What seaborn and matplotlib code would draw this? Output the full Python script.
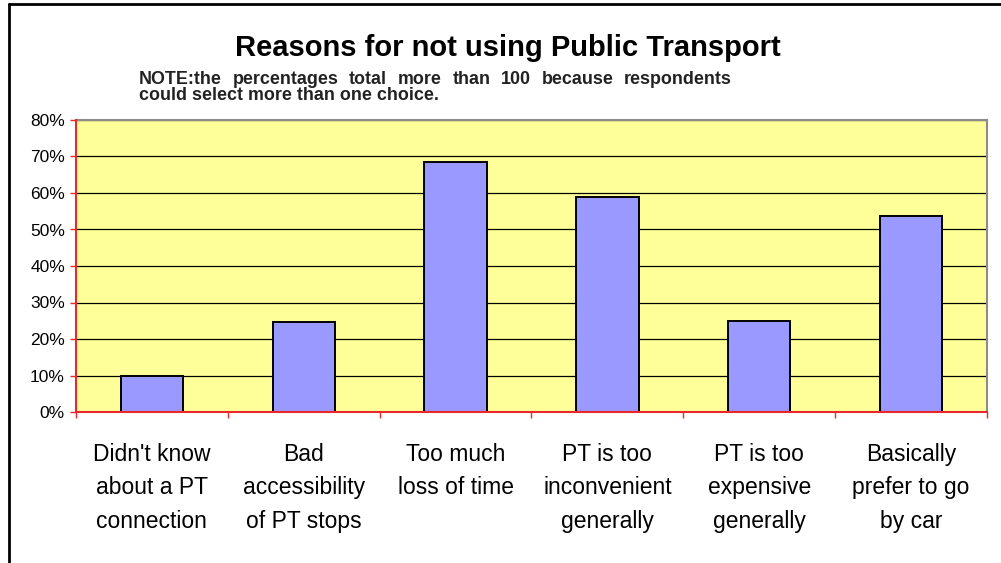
import numpy as np
import pandas as pd
import seaborn as sns
import matplotlib.pyplot as plt
from matplotlib.lines import Line2D
from matplotlib.ticker import PercentFormatter, FixedLocator

# chart data
reasons = [
    "Didn't know\nabout a PT\nconnection",
    "Bad\naccessibility\nof PT stops",
    "Too much\nloss of time",
    "PT is too\ninconvenient\ngenerally",
    "PT is too\nexpensive\ngenerally",
    "Basically\nprefer to go\nby car",
]
percent = [9.9, 24.7, 68.4, 59.0, 25.0, 53.7]
y_ticks = [0, 10, 20, 30, 40, 50, 60, 70, 80]

title = "Reasons for not using Public Transport"
note_line1 = "NOTE:the percentages total more than 100 because respondents"
note_line2 = "could select more than one choice."

sns.set_style("white")
plt.rcParams["font.family"] = ["Liberation Sans", "DejaVu Sans"]
plt.rcParams["text.color"] = "black"

df = pd.DataFrame({"reason": reasons, "percent": percent})

W, H = 1001, 563
fig = plt.figure(figsize=(W / 100, H / 100), dpi=100)
fig.patch.set_facecolor("white")
ax = fig.add_axes([76 / W, 1 - 412 / H, (987 - 76) / W, (412 - 120) / H])
ax.set_facecolor("#FFFF99")

sns.barplot(data=df, x="reason", y="percent", color="#9999FF", saturation=1,
            edgecolor="black", linewidth=1.4, width=0.41, ax=ax, zorder=3)

ax.set_ylim(0, 80)
ax.set_xlim(-0.5, len(reasons) - 0.5)
ax.set_yticks(y_ticks)
ax.yaxis.set_major_formatter(PercentFormatter(xmax=100, decimals=0))
ax.grid(axis="y", color="black", linewidth=0.9, zorder=1)
ax.grid(axis="x", visible=False)
ax.set_axisbelow(True)
ax.set_xlabel("")
ax.set_ylabel("")

# spines
for side in ["left", "bottom"]:
    ax.spines[side].set_color("#E8282B")
    ax.spines[side].set_linewidth(1.5)
    ax.spines[side].set_zorder(4)
for side in ["top", "right"]:
    ax.spines[side].set_color("#8C8C8C")
    ax.spines[side].set_linewidth(1.5)

# ticks
ax.tick_params(axis="y", which="major", direction="out", length=4.5, width=1,
               color="#E8282B", labelcolor="black", labelsize=12.5, pad=3.5,
               left=True)
ax.tick_params(axis="x", which="major", length=0, labelsize=16.5, pad=22,
               labelcolor="black")
ax.xaxis.set_minor_locator(FixedLocator(np.arange(-0.5, len(reasons), 1.0)))
ax.tick_params(axis="x", which="minor", direction="out", length=4.5, width=1,
               color="#E8282B", bottom=True)
for lab in ax.get_xticklabels():
    lab.set_linespacing(1.6)
    lab.set_verticalalignment("top")

# title
fig.text(507.5 / W, 1 - 56 / H, title, ha="center", va="baseline",
         fontsize=21, fontweight="bold", color="black")

# note, first line justified like the original text box
renderer = fig.canvas.get_renderer()
words = note_line1.split(" ")
x0, x1 = 139, 732
texts = [fig.text(0, 1 - 83.5 / H, w, fontsize=12.9, fontweight="bold",
                  color="#222222", va="baseline", ha="left") for w in words]
widths = [t.get_window_extent(renderer).width for t in texts]
gap = ((x1 - x0) - sum(widths)) / (len(words) - 1)
xpos = x0
for t, w in zip(texts, widths):
    t.set_x(xpos / W)
    xpos += w + gap
fig.text(x0 / W, 1 - 100.5 / H, note_line2, fontsize=12.9, fontweight="bold",
         color="#222222", va="baseline", ha="left")

# outer frame (top and left edges visible)
fig.add_artist(Line2D([9 / W, 9 / W], [0, 1 - 4 / H], color="black", lw=2,
                      transform=fig.transFigure))
fig.add_artist(Line2D([9 / W, 1], [1 - 4 / H, 1 - 4 / H], color="black", lw=2,
                      transform=fig.transFigure))

fig.savefig("out.png", dpi=100)
